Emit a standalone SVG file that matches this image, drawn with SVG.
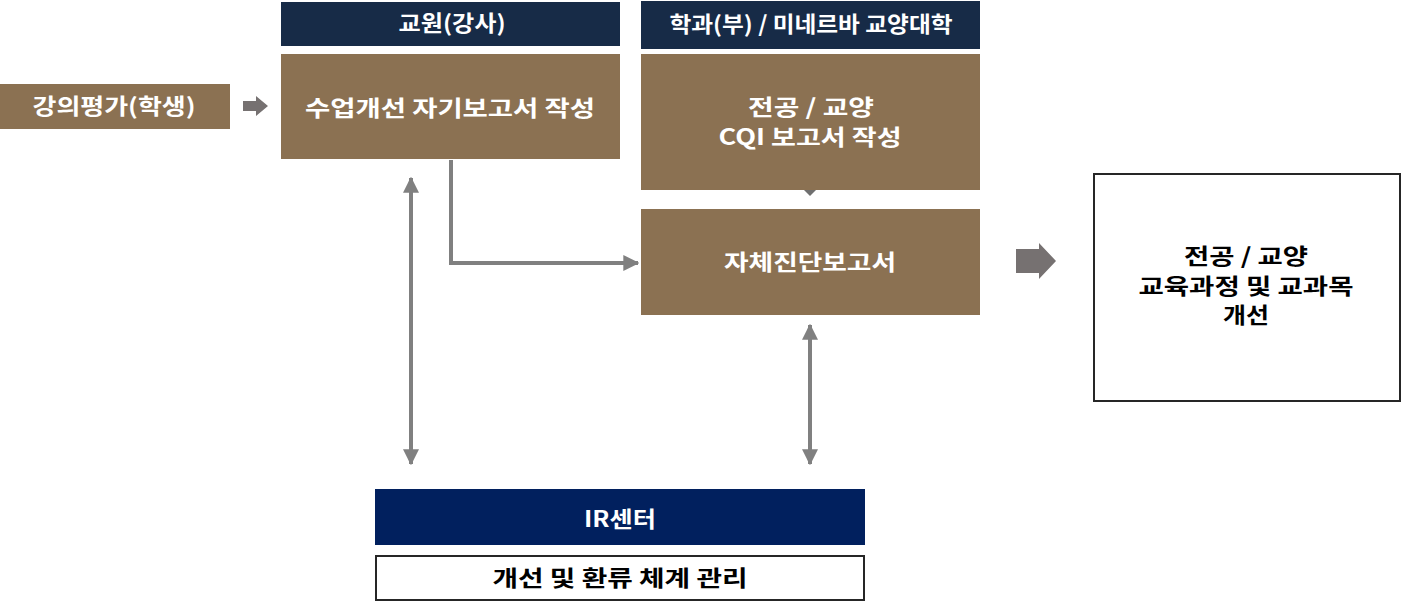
<svg xmlns="http://www.w3.org/2000/svg" width="1402" height="608" viewBox="0 0 1402 608">
<style>
text{font-family:"Malgun Gothic","Noto Sans CJK KR","Noto Sans",sans-serif;font-weight:bold;text-anchor:middle}
.brown{fill:#8B7152}
.hdr{fill:#172B47}
.w{fill:#fff;font-size:22px}
.k{fill:#000;font-size:22px}
.line{stroke:#808080;stroke-width:4;fill:none}
.blk{fill:#767171}
</style>
<defs>
<marker id="ah" viewBox="0 0 12 12" refX="11" refY="6" markerWidth="4" markerHeight="4" orient="auto-start-reverse" markerUnits="strokeWidth">
<path d="M0,0 L12,6 L0,12 Z" fill="#808080"/>
</marker>
</defs>
<g id="n-student"><rect class="brown" x="0" y="84" width="230" height="45"/><text class="w" x="114" y="114" textLength="163" lengthAdjust="spacingAndGlyphs">강의평가(학생)</text></g>
<g id="n-hdr-faculty"><rect class="hdr" x="281" y="2" width="339" height="44"/><text class="w" x="452" y="31" textLength="107" lengthAdjust="spacingAndGlyphs">교원(강사)</text></g>
<g id="n-self"><rect class="brown" x="281" y="54" width="339" height="105"/><text class="w" x="450" y="116" textLength="290" lengthAdjust="spacingAndGlyphs">수업개선 자기보고서 작성</text></g>
<g id="n-hdr-dept"><rect class="hdr" x="641" y="1" width="339" height="48"/><text class="w" x="811" y="32" textLength="283" lengthAdjust="spacingAndGlyphs">학과(부) / 미네르바 교양대학</text></g>
<g id="n-cqi"><rect class="brown" x="641" y="54" width="339" height="136"/><text class="w" x="811" y="115" textLength="126" lengthAdjust="spacingAndGlyphs">전공 / 교양</text><text class="w" x="810" y="145" textLength="183" lengthAdjust="spacingAndGlyphs">CQI 보고서 작성</text></g>
<g id="n-selfdiag"><rect class="brown" x="641" y="209" width="339" height="106"/><text class="w" x="810" y="270" textLength="172" lengthAdjust="spacingAndGlyphs">자체진단보고서</text></g>
<g id="n-result"><rect x="1094" y="174" width="306" height="227" fill="#fff" stroke="#262626" stroke-width="2"/><text class="k" x="1246" y="264" textLength="124" lengthAdjust="spacingAndGlyphs">전공 / 교양</text><text class="k" x="1246" y="294" textLength="215" lengthAdjust="spacingAndGlyphs">교육과정 및 교과목</text><text class="k" x="1246" y="323" textLength="46" lengthAdjust="spacingAndGlyphs">개선</text></g>
<g id="n-ir"><rect x="375" y="489" width="490" height="56" fill="#01205E"/><text class="w" x="620" y="527" textLength="72" lengthAdjust="spacingAndGlyphs">IR센터</text></g>
<g id="n-manage"><rect x="376" y="556" width="488" height="44" fill="#fff" stroke="#262626" stroke-width="2"/><text class="k" x="620" y="586" textLength="255" lengthAdjust="spacingAndGlyphs">개선 및 환류 체계 관리</text></g>
<g id="connectors">
<polygon class="blk" points="243,101 256,101 256,96 268,106 256,116 256,111 243,111"/>
<polygon class="blk" points="1016,249 1039,249 1039,243 1056,261 1039,279 1039,273 1016,273"/>
<line class="line" x1="411" y1="178" x2="411" y2="464" marker-start="url(#ah)" marker-end="url(#ah)"/>
<polyline class="line" points="451,160 451,263 638,263" marker-end="url(#ah)"/>
<line class="line" x1="810" y1="325" x2="810" y2="464" marker-start="url(#ah)" marker-end="url(#ah)"/>
<polygon points="804,190 816,190 810,196" fill="#6f6f6f"/>
</g>
</svg>
